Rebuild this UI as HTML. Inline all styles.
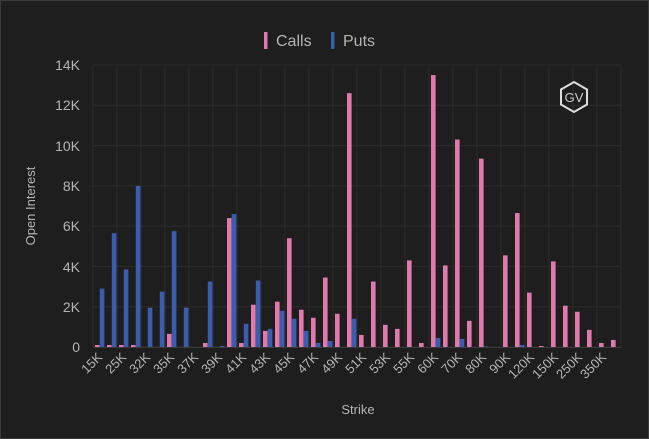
<!DOCTYPE html>
<html><head><meta charset="utf-8"><style>
html,body{margin:0;padding:0;background:#1e1e1e;}
svg{display:block;font-family:"Liberation Sans",sans-serif;}
</style></head><body>
<svg width="649" height="439" viewBox="0 0 649 439" xmlns="http://www.w3.org/2000/svg">
<rect x="0" y="0" width="649" height="439" fill="#1e1e1e"/>
<rect x="0.5" y="0.5" width="648" height="438" fill="none" stroke="#3a3a3a"/>
<g id="grid" stroke="#2c2c2c" stroke-width="1"></g>
<g id="bars"></g>
<g id="xl" fill="#b5b5b5" font-size="13" text-anchor="end"></g>
<g fill="#b5b5b5" font-size="14" text-anchor="end">
<text x="80" y="70">14K</text><text x="80" y="110">12K</text><text x="80" y="151">10K</text>
<text x="80" y="191">8K</text><text x="80" y="231">6K</text><text x="80" y="272">4K</text>
<text x="80" y="312">2K</text><text x="80" y="352">0</text>
</g>
<text transform="translate(35,206) rotate(-90)" fill="#b5b5b5" font-size="13" text-anchor="middle">Open Interest</text>
<text x="358" y="414" fill="#b5b5b5" font-size="13" text-anchor="middle">Strike</text>
<rect x="264" y="32" width="3.5" height="17" fill="#e07aad"/>
<text x="276" y="46" fill="#b5b5b5" font-size="16">Calls</text>
<rect x="331" y="32" width="3.5" height="17" fill="#3b5db0"/>
<text x="343" y="46" fill="#b5b5b5" font-size="16">Puts</text>
<polygon points="574,82 587,89.5 587,104.5 574,112 561,104.5 561,89.5" fill="none" stroke="#ddd" stroke-width="2"/>
<text x="574" y="102" fill="#ccc" font-size="13" text-anchor="middle">GV</text>
</svg>
<script>
var calls=[100,100,100,100,0,0,650,0,0,200,0,6400,200,2100,800,2250,5400,1850,1450,3450,1650,12600,600,3250,1100,900,4300,200,13500,4050,10300,1300,9350,0,4550,6650,2700,50,4250,2050,1750,850,200,350];
var puts=[2900,5650,3850,8000,1950,2750,5750,1950,0,3250,50,6600,1150,3300,900,1800,1400,800,200,300,0,1400,0,0,0,0,0,0,450,0,400,0,30,0,0,100,0,0,0,0,0,0,0,0];
var labels=["15K","25K","32K","35K","37K","39K","41K","43K","45K","47K","49K","51K","53K","55K","60K","70K","80K","90K","120K","150K","250K","350K"];
var ns="http://www.w3.org/2000/svg",L=93,Z=347,S=282/14000;
function el(t,a,p){var e=document.createElementNS(ns,t);for(var k in a)e.setAttribute(k,a[k]);document.getElementById(p).appendChild(e);return e;}
for(var i=0;i<=7;i++){var y=Z-i*2000*S;el("line",{x1:L,x2:621,y1:y,y2:y},"grid");}
for(var k=0;k<=22;k++){var x=L+24*k;el("line",{x1:x,x2:x,y1:65,y2:Z},"grid");}
el("line",{x1:L,x2:621,y1:Z+0.5,y2:Z+0.5,stroke:"#3a3a3a"},"grid");
for(var i=0;i<44;i++){var x=L+12*i;
 if(calls[i]>0){var h=calls[i]*S;el("rect",{x:x+2,y:Z-h,width:4.6,height:h,fill:"#e07aad"},"bars");}
 if(puts[i]>0){var h=puts[i]*S;el("rect",{x:x+6.8,y:Z-h,width:4.6,height:h,fill:"#3b5db0"},"bars");}}
for(var j=0;j<22;j++){var cx=L+24*j+6+4;var t=el("text",{transform:"translate("+cx+",358) rotate(-45)"},"xl");t.textContent=labels[j];}
</script>
</body></html>
